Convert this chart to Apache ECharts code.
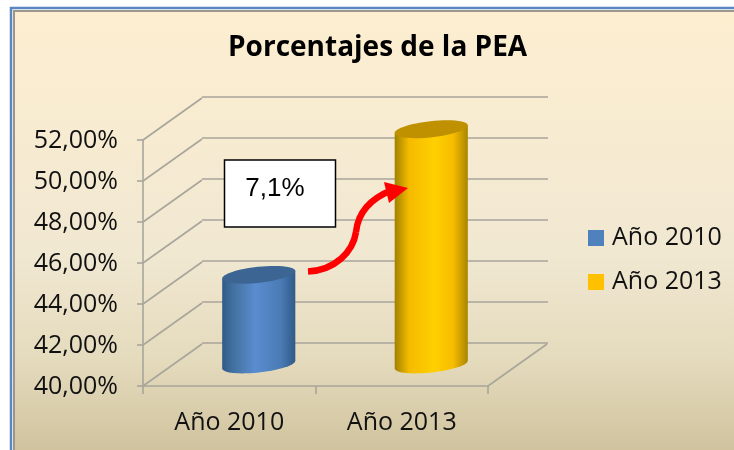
<!DOCTYPE html>
<html><head><meta charset="utf-8">
<style>html,body{margin:0;padding:0;background:#fff}#c{width:734px;height:450px}</style>
<script src="https://cdn.jsdelivr.net/npm/echarts@6/dist/echarts.min.js"></script>
</head><body><div id="c"></div>
<script>
const categories = ['Año 2010', 'Año 2013'];
const values2010 = [44.4];
const values2013 = [51.5];
const yTicks = [40, 42, 44, 46, 48, 50, 52];
const titleText = 'Porcentajes de la PEA';
const noteText = '7,1%';

const FONT = '"Open Sans","Noto Sans",sans-serif';
const GRID = '#a8a59b';
const DX = 59, DY = -42;

function lg(stops){return {type:'linear',x:0,y:0,x2:1,y2:0,colorStops:stops.map(s=>({offset:s[0],color:s[1]}))};}
const blueBody = lg([[0,'#2f5a88'],[0.15,'#42709f'],[0.45,'#5a8dd0'],[0.8,'#4a7bb5'],[1,'#305a88']]);
const goldBody = lg([[0,'#a08000'],[0.2,'#f5bb00'],[0.55,'#ffd000'],[0.8,'#f7bc00'],[1,'#a88400']]);

function cylinder(body, topColor){
  return function(params, api){
    const w = api.size([1,0])[0] * 0.424, a = w/2, b = 8, rise = 4;
    const rot = -Math.atan2(rise, a) * 180 / Math.PI;
    const top = api.coord([api.value(0), api.value(1)]);
    const base = api.coord([api.value(0), 40]);
    const l = top[0]-a, r = top[0]+a;
    const d = `M${l} ${top[1]+rise}L${r} ${top[1]-rise}L${r} ${base[1]-rise}A${a+0.3} ${b} ${rot} 0 1 ${l} ${base[1]+rise}Z`;
    return {type:'group',children:[
      {type:'path',shape:{pathData:d},style:{fill:body,stroke:null}},
      {type:'ellipse',x:top[0],y:top[1],originX:0,originY:0,rotation:Math.atan2(rise,a),
       shape:{cx:0,cy:0,rx:Math.hypot(a,rise),ry:b},style:{fill:topColor,stroke:null}}
    ]};
  };
}
function depthLines(params, api){
  const p = api.coord([0, api.value(0)]);
  const left = p[0] - api.size([1,0])[0]/2;
  return {type:'line',shape:{x1:left,y1:p[1],x2:left+DX,y2:p[1]+DY},
          style:{stroke:GRID,lineWidth:1.6}};
}
function floorEdge(params, api){
  const size = api.size([1,0])[0];
  const p = api.coord([1, 40]);
  const x = p[0] + size/2;
  return {type:'line',shape:{x1:x,y1:p[1],x2:x+DX,y2:p[1]+DY},style:{stroke:GRID,lineWidth:1.6}};
}

const chart = echarts.init(document.getElementById('c'), null, {renderer:'canvas'});
const yBase = {type:'value',min:40,max:52,interval:2};
const hiddenX = {type:'category',data:categories,axisLine:{show:false},axisTick:{show:false},axisLabel:{show:false},splitLine:{show:false}};
chart.setOption({
  animation:false,
  backgroundColor:'#ffffff',
  title:{text:titleText,left:223,top:29,
    textStyle:{fontFamily:FONT,fontWeight:'bold',fontSize:28,color:'#000'}},
  legend:{orient:'vertical',left:588,top:225,padding:0,icon:'rect',itemWidth:16,itemHeight:16,itemGap:18,
    data:categories,textStyle:{fontFamily:FONT,fontSize:25,lineHeight:26,color:'#111',padding:[0,0,0,3]}},
  grid:[
    {left:143,width:345,top:140,height:246},
    {left:202,width:346,top:97,height:246},
    {left:172.5,width:345,top:119,height:246}
  ],
  xAxis:[
    {type:'category',gridIndex:0,data:categories,
      axisLine:{show:true,lineStyle:{color:GRID,width:1.6}},
      axisTick:{show:true,length:8,alignWithLabel:false,lineStyle:{color:GRID,width:1.6}},
      axisLabel:{fontFamily:FONT,fontSize:25,color:'#111',margin:24},splitLine:{show:false}},
    Object.assign({gridIndex:1},hiddenX),
    Object.assign({gridIndex:2},hiddenX)
  ],
  yAxis:[
    Object.assign({gridIndex:0},yBase,{
      axisLine:{show:true,lineStyle:{color:GRID,width:1.6}},
      axisTick:{show:true,length:6,lineStyle:{color:GRID,width:1.6}},
      axisLabel:{fontFamily:FONT,fontSize:25,color:'#111',margin:25,verticalAlign:'top',padding:[-12,0,0,0],
        formatter:v=>v.toFixed(2).replace('.',',')+'%'},
      splitLine:{show:false}}),
    Object.assign({gridIndex:1},yBase,{axisLine:{show:false},axisTick:{show:false},axisLabel:{show:false},
      splitLine:{show:true,lineStyle:{color:GRID,width:1.6}}}),
    Object.assign({gridIndex:2},yBase,{axisLine:{show:false},axisTick:{show:false},axisLabel:{show:false},splitLine:{show:false}})
  ],
  series:[
    {type:'custom',name:'_depth',xAxisIndex:0,yAxisIndex:0,z:1,silent:true,renderItem:depthLines,data:yTicks.map(v=>[v]),encode:{y:0}},
    {type:'custom',name:'_edge',xAxisIndex:0,yAxisIndex:0,z:1,silent:true,renderItem:floorEdge,data:[[1,40]]},
    {type:'custom',name:categories[0],xAxisIndex:2,yAxisIndex:2,z:3,itemStyle:{color:'#4f81bd'},
      renderItem:cylinder(blueBody,'#3d6594'),data:values2010.map(v=>[0,v])},
    {type:'custom',name:categories[1],xAxisIndex:2,yAxisIndex:2,z:3,itemStyle:{color:'#ffc000'},
      renderItem:cylinder(goldBody,'#bf9000'),data:values2013.map(v=>[1,v])}
  ],
  graphic:[
    {type:'rect',z:-10,silent:true,shape:{x:14,y:11,width:720,height:439},
      style:{fill:{type:'linear',x:0,y:0,x2:0,y2:1,colorStops:[{offset:0,color:'#fdeed0'},{offset:0.55,color:'#f1e8d2'},{offset:0.8,color:'#e4dabc'},{offset:1,color:'#d0c39e'}]}}},
    {type:'polyline',z:-9,silent:true,shape:{points:[[11,450],[11,8],[734,8]]},style:{stroke:'#5b86c0',fill:null,lineWidth:2.5}},
    {type:'polyline',z:-9,silent:true,shape:{points:[[14,450],[14,11],[734,11]]},style:{stroke:'#9c978c',fill:null,lineWidth:2}},
    {type:'rect',z:20,silent:true,shape:{x:224.5,y:160,width:111,height:67},style:{fill:'#fff',stroke:'#000',lineWidth:1.5}},
    {type:'text',z:21,silent:true,x:275,y:176,style:{text:noteText,fontFamily:'"Liberation Sans",Arial,sans-serif',fontSize:26,fill:'#000',align:'center',verticalAlign:'top'}},
    {type:'bezierCurve',z:22,silent:true,shape:{x1:308,y1:271.5,cpx1:335,cpy1:270,cpx2:353,cpy2:252,x2:356,y2:232},style:{fill:null,stroke:'#ff0000',lineWidth:6.5}},
    {type:'bezierCurve',z:22,silent:true,shape:{x1:356,y1:232,cpx1:358,cpy1:212,cpx2:372,cpy2:198,x2:392,y2:190},style:{fill:null,stroke:'#ff0000',lineWidth:6.5}},
    {type:'polygon',z:22,silent:true,shape:{points:[[408,188],[384,182],[389,203]]},style:{fill:'#ff0000'}}
  ]
});
</script></body></html>
